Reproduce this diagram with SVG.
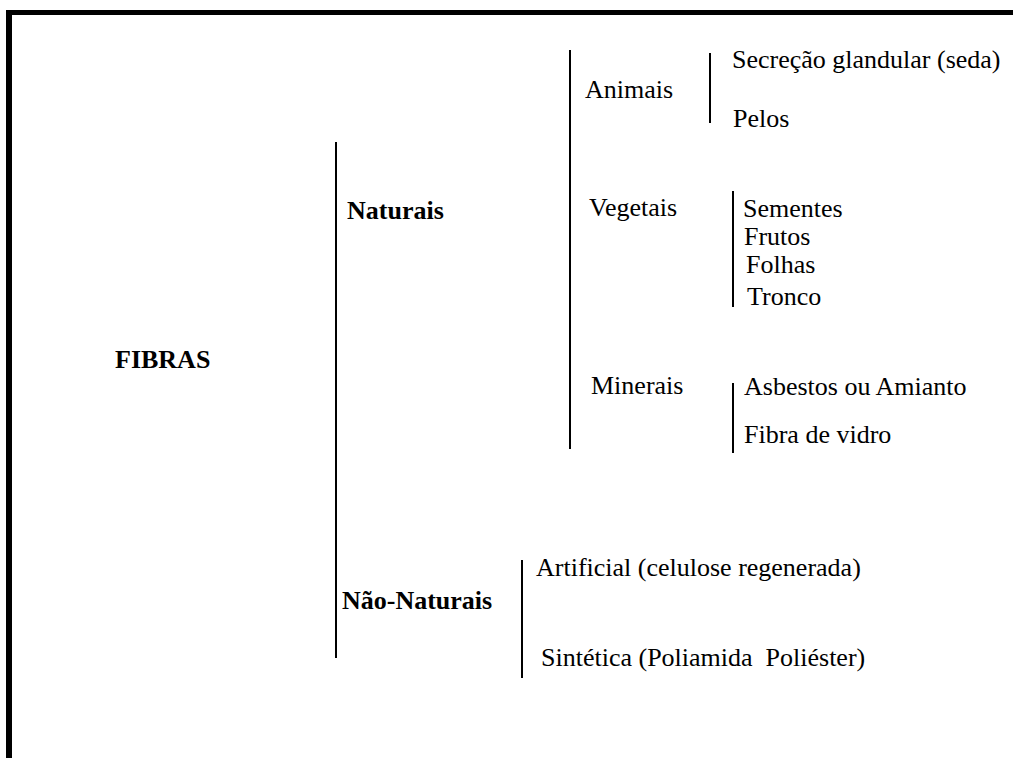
<svg xmlns="http://www.w3.org/2000/svg" width="1013" height="758" viewBox="0 0 1013 758">
<style>
.t{font-family:"Liberation Serif","Times New Roman",Times,serif;font-size:26px;fill:#000}
.b{font-weight:bold}
.l{stroke:#000;stroke-width:2;fill:none}
</style>
<rect width="1013" height="758" fill="#fff"/>
<g id="border">
<line x1="9" y1="12.5" x2="1013" y2="12.5" stroke="#000" stroke-width="5"/>
<line x1="9" y1="10" x2="9" y2="758" stroke="#000" stroke-width="6"/>
</g>
<g id="connectors">
<line class="l" x1="336" y1="142" x2="336" y2="658"/>
<line class="l" x1="570" y1="50" x2="570" y2="449"/>
<line class="l" x1="710" y1="53" x2="710" y2="123"/>
<line class="l" x1="733" y1="191" x2="733" y2="307"/>
<line class="l" x1="733" y1="383" x2="733" y2="453"/>
<line class="l" x1="522" y1="560" x2="522" y2="678"/>
</g>
<g id="fibras"><text class="t b" x="115" y="368">FIBRAS</text></g>
<g id="naturais"><text class="t b" x="347" y="219">Naturais</text></g>
<g id="nao-naturais"><text class="t b" x="342" y="609">Não-Naturais</text></g>
<g id="animais"><text class="t" x="585" y="98">Animais</text></g>
<g id="vegetais"><text class="t" x="589" y="216">Vegetais</text></g>
<g id="minerais"><text class="t" x="591" y="394">Minerais</text></g>
<g id="secrecao"><text class="t" x="732" y="68">Secreção glandular (seda)</text></g>
<g id="pelos"><text class="t" x="733" y="127">Pelos</text></g>
<g id="sementes"><text class="t" x="743" y="217">Sementes</text></g>
<g id="frutos"><text class="t" x="744" y="245">Frutos</text></g>
<g id="folhas"><text class="t" x="746" y="273">Folhas</text></g>
<g id="tronco"><text class="t" x="747" y="305">Tronco</text></g>
<g id="asbestos"><text class="t" x="744" y="395">Asbestos ou Amianto</text></g>
<g id="fibra-vidro"><text class="t" x="744" y="443">Fibra de vidro</text></g>
<g id="artificial"><text class="t" x="536" y="576">Artificial (celulose regenerada)</text></g>
<g id="sintetica"><text class="t" x="541" y="666" xml:space="preserve">Sintética (Poliamida  Poliéster)</text></g>
</svg>
